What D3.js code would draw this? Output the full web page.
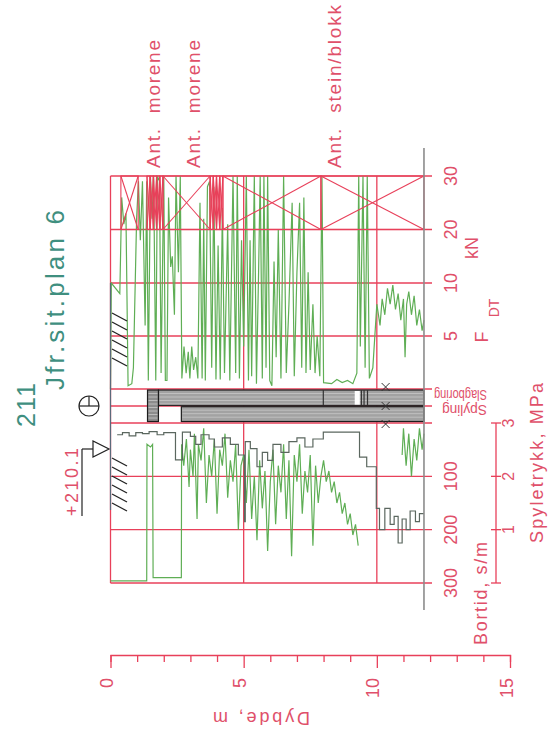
<!DOCTYPE html>
<html>
<head>
<meta charset="utf-8">
<script src="https://cdn.jsdelivr.net/npm/d3@7"></script>
<style>
html, body { margin: 0; padding: 0; background: #fff; }
svg { display: block; font-family: "Liberation Sans", Arial, sans-serif; }
</style>
</head>
<body>
<svg id="chart" width="548" height="740"></svg>
<script>
// depth axis (m)
let depthTicks = d3.range(0, 16)
let depthLabels = [0, 5, 10, 15]
// force F_DT (kN), bortid (s/m), spyletrykk (MPa)
let forceTicks = [0, 5, 10, 20, 30]
let forceLabels = [5, 10, 20, 30]
let bortidTicks = [100, 200, 300]
let pressTicks = [0, 1, 2, 3]
let pressLabels = [1, 2, 3]

let boreEnd = 11.77
let hammerStart = 1.39
let bothEnd = 1.8
let flushStart = 2.66
let hammerGaps = [[9.17, 9.36]]
let hammerMarks = [7.99, 9.42, 9.52, 9.65]
let rockMarks = [10.33]

// remark column: crossed boxes (from, to) in m
let crossBoxes = [[0.39, 1.04], [1.37, 1.49], [1.49, 1.61], [1.61, 1.73], [1.73, 1.85], [1.85, 1.97],
  [1.97, 3.74], [3.74, 3.86], [3.86, 3.98], [3.98, 4.1], [4.1, 4.22], [4.22, 7.9], [7.9, 11.77]]
let noteDepths = [1.6, 3.1, 8.4]
let noteTexts = ['Ant.  morene', 'Ant.  morene', 'Ant.  stein/blokk']

// F_DT [depth, kN]
let force = [[0.00,0],[0.03,10],[0.35,9],[0.42,26],[0.5,21],[0.58,23],[0.66,0.3],[0.8,0.5],[0.86,2],[0.98,22],
  [1.05,29],[1.12,18],[1.2,29],[1.3,6],[1.36,29],[1.42,0.8],[1.5,30],[1.56,22],[1.62,30],[1.7,0.8],
  [1.76,30],[1.84,29],[1.9,1.5],[2.0,30],[2.06,0.8],[2.12,0.8],[2.18,26],[2.26,13],[2.32,15],[2.4,7],
  [2.46,30],[2.55,12],[2.62,30],[2.68,1],[2.76,4],[2.84,1.5],[2.92,3.5],[2.98,1],[3.05,4],[3.12,1.8],
  [3.2,3],[3.28,1],[3.36,25],[3.44,1],[3.5,22],[3.56,0.8],[3.64,28],[3.72,29],[3.8,2],[3.88,28],
  [3.96,0.9],[4.04,17],[4.12,0.9],[4.2,24],[4.28,1.5],[4.4,21],[4.48,0.8],[4.6,30],[4.7,1.5],[4.76,30],
  [4.84,1],[4.92,18],[5.0,4],[5.1,30],[5.18,0.8],[5.24,18],[5.3,1.2],[5.4,30],[5.48,0.5],[5.56,12],
  [5.62,30],[5.7,1],[5.76,30],[5.84,2],[5.9,30],[5.98,0.8],[6.06,0.3],[6.14,14],[6.22,3],[6.3,20],
  [6.4,1],[6.5,30],[6.6,1.5],[6.7,8],[6.82,25],[6.9,1.2],[7.0,12],[7.1,25],[7.18,2],[7.26,26],
  [7.34,1.5],[7.42,12],[7.5,1.8],[7.6,8],[7.68,1.5],[7.76,5],[7.86,1.2],[7.94,30],[8.0,0.6],[8.3,0.5],
  [8.5,0.9],[8.7,0.6],[8.9,0.8],[9.1,0.5],[9.25,1.5],[9.32,30],[9.38,4],[9.48,30],[9.56,2],[9.64,30],
  [9.72,1],[9.85,2],[10.0,8],[10.12,6],[10.2,8.5],[10.3,7],[10.4,9.5],[10.5,8],[10.6,9.8],[10.7,7.5],
  [10.8,9],[10.9,6.5],[11.0,8.5],[11.06,3],[11.12,8],[11.2,9.2],[11.3,7],[11.4,8.8],[11.5,6],[11.6,7.5],
  [11.7,5.5],[11.77,6.5]]

// bortid [depth, s/m] (stepped)
let bortid = [[0.25,22],[0.45,18],[0.7,24],[0.95,18],[1.2,20],[1.45,16],[1.75,22],[2.0,18],[2.44,69],[2.7,17],
  [3.0,25],[3.2,40],[3.4,22],[3.7,30],[3.9,45],[4.2,28],[4.5,40],[4.8,60],[5.03,185],[5.06,35],
  [5.25,48],[5.5,82],[5.7,55],[5.9,70],[6.1,40],[6.4,55],[6.7,35],[7.0,28],[7.3,45],[7.6,30],
  [7.99,17],[9.35,64],[9.62,82],[9.98,160],[10.1,200],[10.3,160],[10.5,190],[10.65,175],[10.8,225],[10.95,180],
  [11.1,200],[11.25,165],[11.45,185],[11.6,170],[11.77,170]]

// spyletrykk [depth, MPa], null = not recorded
let press = [[0,0.04],[1.36,0.04],[1.37,2.6],[1.5,2.55],[1.58,2.6],[1.6,0.1],[2.66,0.1],[2.67,2.6],[2.75,2.2],[2.85,2.7],
  [2.95,1.8],[3.0,2.5],[3.1,2.0],[3.15,2.8],[3.25,1.2],[3.3,2.6],[3.4,2.3],[3.5,2.9],[3.6,1.5],[3.7,2.4],
  [3.8,2.0],[3.9,2.7],[4.0,1.3],[4.1,2.5],[4.2,2.2],[4.3,2.8],[4.4,1.6],[4.5,2.3],[4.6,1.9],[4.7,2.6],
  [4.8,1.0],[4.9,2.2],[5.0,2.4],[5.1,1.5],[5.2,2.5],[5.3,1.2],[5.4,2.0],[5.5,0.8],[5.6,2.3],[5.7,1.4],
  [5.8,2.1],[5.9,0.6],[6.0,1.9],[6.1,2.5],[6.2,1.1],[6.3,2.2],[6.4,1.7],[6.5,2.6],[6.6,1.2],[6.7,2.3],
  [6.8,0.5],[6.9,2.4],[7.0,1.9],[7.1,2.6],[7.2,1.3],[7.3,2.1],[7.4,1.7],[7.5,2.4],[7.6,0.7],[7.7,2.2],
  [7.8,1.5],[7.9,2.0],[8.0,2.3],[8.1,1.9],[8.2,2.1],[8.3,1.7],[8.4,1.9],[8.5,1.5],[8.6,1.7],[8.7,1.3],
  [8.8,1.5],[8.9,1.1],[9.0,1.3],[9.1,0.9],[9.2,1.1],[9.3,0.7],[9.31,null],
  [10.95,2.4],[11.0,2.9],[11.1,2.2],[11.2,2.8],[11.3,2.0],[11.4,2.7],[11.5,2.3],[11.6,2.9],[11.7,2.5],[11.77,2.8]]

let red = '#e8405a'
let redText = '#e0506a'
let green = '#5fae55'
let teal = '#3f8f7f'

let svg = d3.select('#chart')

let x = d3.scaleLinear().domain([0, 15]).range([110.5, 510])
let yF = d3.scaleLinear().domain(forceTicks).range([389, 336, 283, 229.5, 176])
let yB = d3.scaleLinear().domain([0, 300]).range([423, 583])
let yP = d3.scaleLinear().domain([0, 3]).range([583, 423])

let xL = x(0), xR = 432
let yBandMid = 406

function vtext(sx, sy, str, o) {
  let t = svg.append('text')
    .attr('transform', `translate(${sx},${sy}) rotate(${o.rot == null ? -90 : o.rot})`)
    .attr('text-anchor', o.anchor || 'middle')
    .attr('font-size', o.size || 17)
    .attr('fill', o.fill || redText)
    .style('white-space', 'pre')
    .text(str)
  if (o.len) t.attr('textLength', o.len).attr('lengthAdjust', o.adj || 'spacing')
  return t
}

// grid
let grid = svg.append('g').attr('stroke', red).attr('stroke-width', 1.3)
forceTicks.forEach(v => grid.append('line').attr('x1', xL).attr('x2', xR).attr('y1', yF(v)).attr('y2', yF(v)))
grid.append('line').attr('x1', xL).attr('x2', xR).attr('y1', yBandMid).attr('y2', yBandMid)
grid.append('line').attr('x1', xL).attr('x2', xR).attr('y1', yB(0)).attr('y2', yB(0))
bortidTicks.forEach(v => grid.append('line').attr('x1', xL).attr('x2', xR).attr('y1', yB(v)).attr('y2', yB(v)))
;[0, 5, 10].forEach(d => grid.append('line').attr('x1', x(d)).attr('x2', x(d)).attr('y1', yF(30)).attr('y2', yB(300)))

// traces
let lineF = d3.line().x(d => x(d[0])).y(d => yF(d[1]))
svg.append('path').datum(force).attr('d', lineF)
  .attr('fill', 'none').attr('stroke', green).attr('stroke-width', 1.2)

let lineP = d3.line().defined(d => d[1] != null).x(d => x(d[0])).y(d => yP(d[1]))
svg.append('path').datum(press).attr('d', lineP)
  .attr('fill', 'none').attr('stroke', green).attr('stroke-width', 1.2)

let lineB = d3.line().curve(d3.curveStepAfter).x(d => x(d[0])).y(d => yB(d[1]))
svg.append('path').datum(bortid).attr('d', lineB)
  .attr('fill', 'none').attr('stroke', '#5b675f').attr('stroke-width', 1.2)

// remark column crosses
let cross = svg.append('g').attr('stroke', red).attr('stroke-width', 1.1).attr('fill', 'none')
crossBoxes.forEach(b => {
  let x0 = x(b[0]), x1 = x(b[1]), y0 = yF(30), y1 = yF(20)
  cross.append('rect').attr('x', x0).attr('y', y0).attr('width', x1 - x0).attr('height', y1 - y0)
  cross.append('line').attr('x1', x0).attr('y1', y0).attr('x2', x1).attr('y2', y1)
  cross.append('line').attr('x1', x0).attr('y1', y1).attr('x2', x1).attr('y2', y0)
})
noteDepths.forEach((d, i) => vtext(x(d) + 7, 168, noteTexts[i], {anchor: 'start', size: 19,
  len: i == 2 ? 163 : 128}))

// hammering / flushing bars
let bars = svg.append('g')
function bar(d0, d1, y0, y1, fill) {
  bars.append('rect').attr('x', x(d0)).attr('y', y0).attr('width', x(d1) - x(d0)).attr('height', y1 - y0)
    .attr('fill', fill).attr('stroke', '#1c1c1c').attr('stroke-width', 1.2)
  for (let yy = y0 + 3.5; yy < y1 - 1; yy += 3.5)
    bars.append('line').attr('x1', x(d0) + 1).attr('x2', x(d1) - 1).attr('y1', yy).attr('y2', yy)
      .attr('stroke', '#c8c8c8').attr('stroke-width', 0.8)
}
bar(bothEnd, boreEnd, 390, 405.3, '#a2a2a2')
bar(flushStart, boreEnd, 406.7, 421.5, '#a2a2a2')
bar(hammerStart, bothEnd, 390, 421.5, '#8c8c8c')
hammerGaps.forEach(g => bars.append('rect').attr('x', x(g[0])).attr('y', 391).attr('width', x(g[1]) - x(g[0]))
  .attr('height', 13.6).attr('fill', '#fff'))
hammerMarks.forEach(d => bars.append('line').attr('x1', x(d)).attr('x2', x(d)).attr('y1', 390).attr('y2', 405)
  .attr('stroke', '#333').attr('stroke-width', 1.2))
rockMarks.forEach(d => [387, 406, 424].forEach(yy => {
  bars.append('path').attr('d', `M${x(d) - 4},${yy - 4}L${x(d) + 4},${yy + 4}M${x(d) - 4},${yy + 4}L${x(d) + 4},${yy - 4}`)
    .attr('stroke', '#333').attr('stroke-width', 1)
}))

// end of boring
svg.append('line').attr('x1', x(boreEnd)).attr('x2', x(boreEnd)).attr('y1', 148).attr('y2', 610)
  .attr('stroke', '#8c8c8c').attr('stroke-width', 1.6)

// right labels
forceLabels.forEach(v => vtext(457, yF(v), String(v), {size: 18}))
vtext(478, 248, 'kN', {size: 18})
vtext(488, 337, 'F', {size: 18})
vtext(499, 308, 'DT', {size: 14})
bortidTicks.forEach(v => vtext(457, yB(v), String(v), {size: 18}))
vtext(487, 645, 'Bortid, s/m', {anchor: 'start', size: 18, len: 103})
vtext(487, 390, 'Slagboring', {rot: 180, anchor: 'start', size: 14, len: 53, adj: 'spacingAndGlyphs'})
vtext(487, 405, 'Spyling', {rot: 180, anchor: 'start', size: 14, len: 45, adj: 'spacingAndGlyphs'})

let pAx = svg.append('g').attr('stroke', red).attr('stroke-width', 1.3)
pAx.append('line').attr('x1', 496).attr('x2', 496).attr('y1', yP(0)).attr('y2', yP(3))
pressTicks.forEach(v => pAx.append('line').attr('x1', 491).attr('x2', 501).attr('y1', yP(v)).attr('y2', yP(v)))
pressLabels.forEach(v => vtext(514, yP(v), String(v), {size: 16}))
vtext(543, 543, 'Spyletrykk, MPa', {anchor: 'start', size: 18, len: 160})

// depth axis
let dAx = svg.append('g').attr('transform', 'translate(0,655)')
  .call(d3.axisBottom(x).tickValues(depthTicks).tickSize(7).tickFormat(''))
dAx.select('.domain').attr('stroke', red).attr('stroke-width', 1.3)
dAx.selectAll('.tick line').attr('stroke', red).attr('stroke-width', 1.3)
  .attr('y2', d => d % 5 == 0 ? 13 : 7)
depthLabels.forEach(v => vtext(x(v) + 2.5, 678, String(v), {anchor: 'end', size: 18}))
vtext(310, 712, 'Dybde, m', {rot: 180, anchor: 'start', size: 18, len: 97})

// left header
vtext(35, 427, '211', {anchor: 'start', size: 25, fill: teal, len: 44})
vtext(64, 390, 'Jfr.sit.plan 6', {anchor: 'start', size: 26, fill: teal, len: 180})
vtext(78, 516, '+210.1', {anchor: 'start', size: 18, len: 68})

let sym = svg.append('g').attr('stroke', '#222').attr('stroke-width', 1.2).attr('fill', 'none')
sym.append('line').attr('x1', 82).attr('x2', 82).attr('y1', 516).attr('y2', 449)
sym.append('line').attr('x1', 82).attr('x2', 93).attr('y1', 449).attr('y2', 449)
sym.append('path').attr('d', 'M93,441L93,457L109,449Z').attr('fill', '#fff')
sym.append('circle').attr('cx', 89).attr('cy', 406).attr('r', 10)
sym.append('line').attr('x1', 79).attr('x2', 99).attr('y1', 406).attr('y2', 406)
sym.append('line').attr('x1', 89).attr('x2', 89).attr('y1', 396).attr('y2', 406)

// ground line and hatches
sym.append('line').attr('x1', xL).attr('x2', xL).attr('y1', 283).attr('y2', 510).attr('stroke', '#5a6a7a')
d3.range(6).forEach(i => sym.append('line').attr('x1', 112).attr('y1', 313 + 9 * i).attr('x2', 127).attr('y2', 321 + 9 * i))
d3.range(6).forEach(i => sym.append('line').attr('x1', 112).attr('y1', 458 + 9 * i).attr('x2', 127).attr('y2', 466 + 9 * i))
</script>
</body>
</html>
